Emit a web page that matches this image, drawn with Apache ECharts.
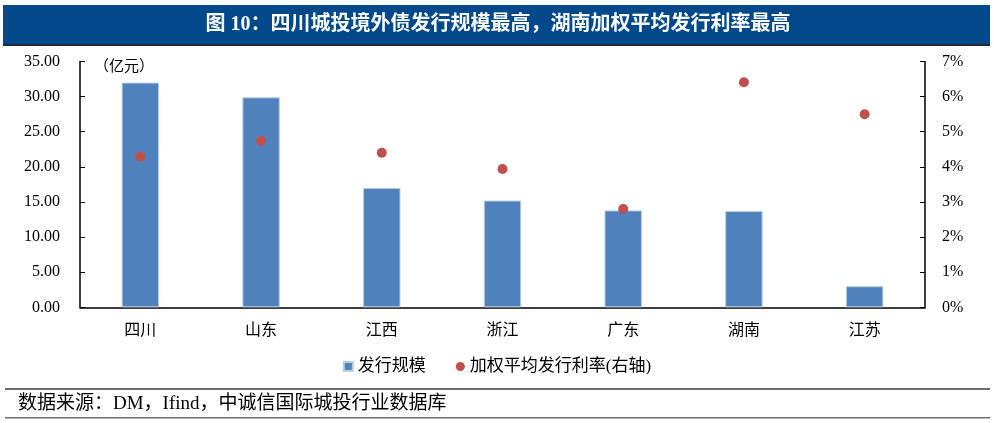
<!DOCTYPE html>
<html><head><meta charset="utf-8">
<script src="https://cdn.jsdelivr.net/npm/echarts@6/dist/echarts.min.js"></script>
<style>html,body{margin:0;padding:0;background:#fff}#c{width:994px;height:423px}</style>
</head><body><div id="c"></div>
<script>
const categories = ['四川','山东','江西','浙江','广东','湖南','江苏'];
const issueScale = [32.0, 29.9, 17.0, 15.2, 13.8, 13.7, 3.0];
const avgRate = [4.29, 4.74, 4.40, 3.94, 2.80, 6.41, 5.50];
const leftTicks = {min: 0, max: 35, interval: 5};
const rightTicks = {min: 0, max: 7, interval: 1};

const FONT = '"Liberation Serif", "Noto Sans CJK SC", serif';
const chart = echarts.init(document.getElementById('c'));
chart.setOption({
  animation: false,
  textStyle: {fontFamily: FONT},
  grid: {left: 80, right: 69, top: 61.5, bottom: 115.7, containLabel: false},
  graphic: [
    {type: 'rect', shape: {x: 3, y: 5, width: 987, height: 40}, style: {fill: '#01498A'}},
    {type: 'rect', shape: {x: 3, y: 44, width: 987, height: 2}, style: {fill: '#1f2a36'}},
    {type: 'text', x: 498, y: 25, style: {text: '图 10：四川城投境外债发行规模最高，湖南加权平均发行利率最高', fill: '#fff', font: 'bold 20px ' + FONT, align: 'center', verticalAlign: 'middle'}},
    {type: 'text', x: 94, y: 67, style: {text: '（亿元）', fill: '#000', font: '15px ' + FONT, align: 'left', verticalAlign: 'middle'}},
    {type: 'rect', shape: {x: 5, y: 388, width: 985, height: 2}, style: {fill: '#6d6d6d'}},
    {type: 'rect', shape: {x: 5, y: 417, width: 985, height: 1.5}, style: {fill: '#6d6d6d'}},
    {type: 'text', x: 18, y: 404, style: {text: '数据来源：DM，Ifind，中诚信国际城投行业数据库', fill: '#000', font: '19px ' + FONT, align: 'left', verticalAlign: 'middle'}}
  ],
  legend: {
    bottom: 43, left: 'center', itemGap: 30, itemWidth: 9, itemHeight: 9,
    textStyle: {fontSize: 17, color: '#000', fontFamily: FONT},
    data: [{name: '发行规模', icon: 'rect'}, {name: '加权平均发行利率(右轴)', icon: 'circle'}]
  },
  xAxis: {
    type: 'category', data: categories,
    axisLine: {lineStyle: {color: '#000', width: 1.5}},
    axisTick: {inside: true, length: 5, lineStyle: {color: '#000'}},
    axisLabel: {fontSize: 16, color: '#000', margin: 15, fontFamily: FONT}
  },
  yAxis: [
    {type: 'value', min: leftTicks.min, max: leftTicks.max, interval: leftTicks.interval,
     splitLine: {show: false},
     axisLine: {show: true, lineStyle: {color: '#000', width: 1.5}},
     axisTick: {show: true, inside: true, length: 5, lineStyle: {color: '#000'}},
     axisLabel: {fontSize: 16, color: '#000', margin: 20, fontFamily: FONT, formatter: v => v.toFixed(2)}},
    {type: 'value', min: rightTicks.min, max: rightTicks.max, interval: rightTicks.interval,
     splitLine: {show: false},
     axisLine: {show: true, lineStyle: {color: '#000', width: 1.5}},
     axisTick: {show: true, inside: true, length: 5, lineStyle: {color: '#000'}},
     axisLabel: {fontSize: 16, color: '#000', margin: 17, fontFamily: FONT, formatter: v => v + '%'}}
  ],
  series: [
    {name: '发行规模', type: 'bar', data: issueScale, barWidth: '31%', yAxisIndex: 0,
     itemStyle: {color: '#4F81BD', borderColor: '#B9CDE5', borderWidth: 1}},
    {name: '加权平均发行利率(右轴)', type: 'scatter', data: avgRate, yAxisIndex: 1, symbolSize: 10,
     itemStyle: {color: '#C0504D', opacity: 1}}
  ]
});
</script></body></html>
